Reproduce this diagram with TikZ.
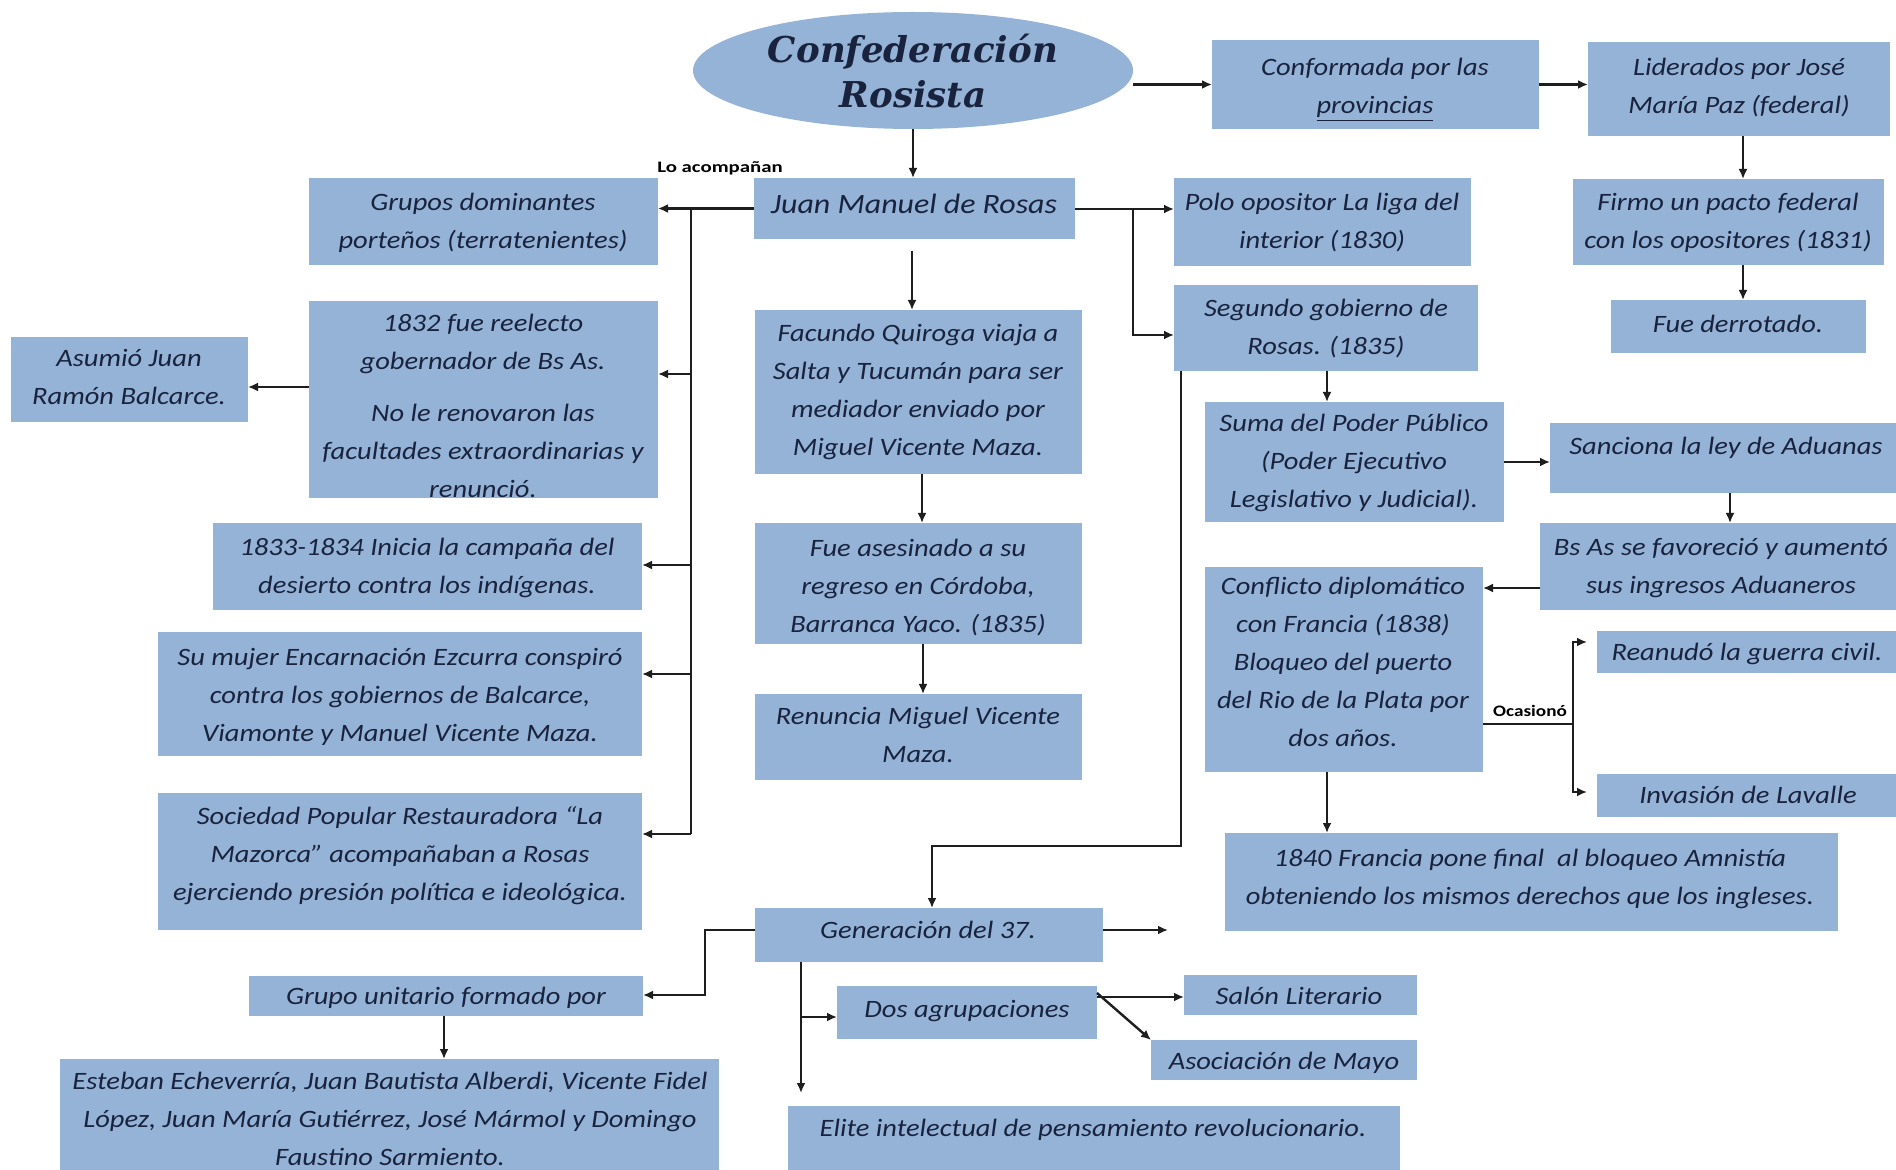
\documentclass[tikz,border=0pt]{standalone}
\usepackage{fontspec}
\usepackage{graphicx}
\setmainfont{Carlito}
\newfontfamily\cf{Carlito}[FakeStretch=1.14]
\newfontfamily\cfs{Carlito}
\newfontfamily\tf{DejaVu Serif}
\usetikzlibrary{arrows.meta,fit,shapes.geometric}
\definecolor{boxfill}{RGB}{149,179,215}
\definecolor{ink}{RGB}{25,35,62}
\definecolor{lin}{RGB}{30,30,30}
\begin{document}
\begin{tikzpicture}[x=0.5pt,y=-0.5pt,
  box/.style={fill=boxfill, inner sep=0pt, outer sep=0pt, draw=none},
  txtbase/.style={text=ink, align=center, font=\cf\itshape\fontsize{12.5}{19}\selectfont, inner sep=0pt,
    execute at begin node=\strut, execute at end node=\strut},
  txt/.style={txtbase, yshift=-0.9pt},
  txtm/.style={txtbase, yshift=-3.3pt},
  txtL/.style={txt, font=\cf\itshape\fontsize{14}{19}\selectfont},
  conn/.style={draw=lin, line width=1.2pt},
  arr/.style={conn, -{Latex[length=5pt,width=4.5pt]}},
  small/.style={text=black, font=\cfs\bfseries\fontsize{8}{9}\selectfont, inner sep=0pt}
]
\useasboundingbox (0,0) rectangle (1896,1170);
\fill[white] (0,0) rectangle (1896,1170);

% title ellipse
\node[ellipse, fill=boxfill, minimum width=220pt, minimum height=58.5pt, inner sep=0pt, outer sep=0pt] (ell) at (913,70.5) {};
\node[text=ink, align=center, font=\tf\bfseries\itshape\fontsize{17.8}{22.5}\selectfont, inner sep=0pt,
  execute at begin node=\strut, execute at end node=\strut] (title) at (913,78) {Confederación\\Rosista};

% boxes
\node[box, fit={(754,178)(1075,239)}] (rosas) {};
\node[box, fit={(1212,40)(1539,129)}] (conf) {};
\node[box, fit={(1588,42)(1890,136)}] (lid) {};
\node[box, fit={(1573,179)(1884,265)}] (firmo) {};
\node[box, fit={(1611,300)(1866,353)}] (derr) {};
\node[box, fit={(1174,178)(1471,266)}] (polo) {};
\node[box, fit={(1174,285)(1478,371)}] (seg) {};
\node[box, fit={(1205,402)(1504,522)}] (suma) {};
\node[box, fit={(1550,423)(1896,493)}] (sanc) {};
\node[box, fit={(1540,523)(1896,610)}] (bsas) {};
\node[box, fit={(1205,567)(1483,772)}] (confl) {};
\node[box, fit={(1597,631)(1896,673)}] (rean) {};
\node[box, fit={(1597,774)(1896,817)}] (inv) {};
\node[box, fit={(1225,833)(1838,931)}] (fr) {};
\node[box, fit={(309,178)(658,265)}] (grupos) {};
\node[box, fit={(309,301)(658,498)}] (reel) {};
\node[box, fit={(11,337)(248,422)}] (asum) {};
\node[box, fit={(213,523)(642,610)}] (camp) {};
\node[box, fit={(158,632)(642,756)}] (mujer) {};
\node[box, fit={(158,793)(642,930)}] (soc) {};
\node[box, fit={(755,310)(1082,474)}] (fac) {};
\node[box, fit={(755,523)(1082,644)}] (ases) {};
\node[box, fit={(755,694)(1082,780)}] (renun) {};
\node[box, fit={(755,908)(1103,962)}] (gen) {};
\node[box, fit={(249,976)(643,1016)}] (gru) {};
\node[box, fit={(60,1059)(719,1170)}] (est) {};
\node[box, fit={(837,986)(1097,1039)}] (dos) {};
\node[box, fit={(1184,975)(1417,1015)}] (sal) {};
\node[box, fit={(1151,1040)(1417,1080)}] (aso) {};
\node[box, fit={(788,1106)(1400,1170)}] (eli) {};

% texts
\node[txtL] (t-rosas) at (914,204) {Juan Manuel de Rosas};
\node[txtm] (t-conf) at (1375,85) {Conformada por las\\\underline{provincias}};
\node[txtm] (t-lid) at (1739,85) {Liderados por José\\María Paz (federal)};
\node[txtm] (t-firmo) at (1728,220) {Firmo un pacto federal\\con los opositores (1831)};
\node[txt] (t-derr) at (1738,323) {Fue derrotado.};
\node[txtm] (t-polo) at (1322,220) {Polo opositor La liga del\\interior (1830)};
\node[txtm] (t-seg) at (1326,326) {Segundo gobierno de\\Rosas. (1835)};
\node[txtm] (t-suma) at (1354,460) {Suma del Poder Público\\(Poder Ejecutivo\\Legislativo y Judicial).};
\node[txt] (t-sanc) at (1726,445) {Sanciona la ley de Aduanas};
\node[txtm] (t-bsas) at (1721,565) {Bs As se favoreció y aumentó\\sus ingresos Aduaneros};
\node[txtm] (t-confl) at (1343,661) {Conflicto diplomático\\con Francia (1838)\\Bloqueo del puerto\\del Rio de la Plata por\\dos años.};
\node[txt] (t-rean) at (1747,651) {Reanudó la guerra civil.};
\node[txt] (t-inv) at (1748,794) {Invasión de Lavalle};
\node[txtm] (t-fr) at (1530,876) {1840 Francia pone final~ al bloqueo Amnistía\\obteniendo los mismos derechos que los ingleses.};
\node[txtm] (t-grupos) at (483,220) {Grupos dominantes\\porteños (terratenientes)};
\node[txtm] (t-reel) at (483,405) {1832 fue reelecto\\gobernador de Bs As.\\[7pt]No le renovaron las\\facultades extraordinarias y\\renunció.};
\node[txtm] (t-asum) at (129,376) {Asumió Juan\\Ramón Balcarce.};
\node[txtm] (t-camp) at (427,565) {1833-1834 Inicia la campaña del\\desierto contra los indígenas.};
\node[txtm] (t-mujer) at (400,694) {Su mujer Encarnación Ezcurra conspiró\\contra los gobiernos de Balcarce,\\Viamonte y Manuel Vicente Maza.};
\node[txtm] (t-soc) at (400,853) {Sociedad Popular Restauradora “La\\Mazorca” acompañaban a Rosas\\ejerciendo presión política e ideológica.};
\node[txtm] (t-fac) at (918,389) {Facundo Quiroga viaja a\\Salta y Tucumán para ser\\mediador enviado por\\Miguel Vicente Maza.};
\node[txtm] (t-ases) at (918,585) {Fue asesinado a su\\regreso en Córdoba,\\Barranca Yaco. (1835)};
\node[txtm] (t-renun) at (918,734) {Renuncia Miguel Vicente\\Maza.};
\node[txt] (t-gen) at (928,929) {Generación del 37.};
\node[txt] (t-gru) at (446,995) {Grupo unitario formado por};
\node[txtm] (t-est) at (390,1118) {Esteban Echeverría, Juan Bautista Alberdi, Vicente Fidel\\López, Juan María Gutiérrez, José Mármol y Domingo\\Faustino Sarmiento.};
\node[txt] (t-dos) at (967,1008) {Dos agrupaciones};
\node[txt] (t-sal) at (1299,995) {Salón Literario};
\node[txt] (t-aso) at (1284,1060) {Asociación de Mayo};
\node[txt] (t-eli) at (1093,1127) {Elite intelectual de pensamiento revolucionario.};

% small labels
\node[small] (l-acomp) at (720,168) {\scalebox{1.3}[1]{Lo acompañan}};
\node[small] (l-ocas) at (1530,711) {\scalebox{1.2}[1]{Ocasionó}};

% connectors
\draw[arr] (ell.south) -- (ell.south |- rosas.north);
\draw[arr] (ell.east |- conf.west) -- (conf.west);
\draw[arr] (conf.east) -- (conf.east -| lid.west);
\draw[arr] (1743,0 |- lid.south) -- (1743,0 |- firmo.north);
\draw[arr] (1743,0 |- firmo.south) -- (1743,0 |- derr.north);

% left bus
\coordinate (bus) at (691,209);
\coordinate (busend) at (691,834);
\draw[arr] (rosas.west) -- (rosas.west -| grupos.east);
\draw[conn] (bus) -- (busend);
\draw[arr] (bus |- 0,374) -- (reel.east |- 0,374);
\draw[arr] (bus |- 0,565) -- (camp.east |- 0,565);
\draw[arr] (bus |- 0,674) -- (mujer.east |- 0,674);
\draw[arr] (busend) -- (soc.east |- busend);
\draw[arr] (reel.west |- 0,387) -- (asum.east |- 0,387);

% centre column
\draw[arr, shorten <=6pt] (912,0 |- rosas.south) -- (912,0 |- fac.north);
\draw[arr] (922,0 |- fac.south) -- (922,0 |- ases.north);
\draw[arr] (923,0 |- ases.south) -- (923,0 |- renun.north);

% right side
\coordinate (pj) at (1133,209);
\draw[arr] (rosas.east |- pj) -- (pj -| polo.west);
\draw[arr] (pj) |- (seg.west |- 0,335);
\draw[arr] (1327,0 |- seg.south) -- (1327,0 |- suma.north);
\draw[arr] (seg.south west -| 1181,0) |- (932,846) -- (932,0 |- gen.north);
\draw[arr] (suma.east) -- (suma.east -| sanc.west);
\draw[arr] (1730,0 |- sanc.south) -- (1730,0 |- bsas.north);
\draw[arr] (bsas.west |- 0,588) -- (confl.east |- 0,588);
\coordinate (oc) at (1573,724);
\draw[conn] (confl.east |- oc) -- (oc);
\draw[arr, shorten >=5pt] (oc) |- (rean.west |- 0,642);
\draw[arr, shorten >=5pt] (oc) |- (inv.west |- 0,792);
\draw[arr] (1327,0 |- confl.south) -- (1327,0 |- fr.north);

% bottom
\coordinate (genend) at (1168,930);
\draw[arr] (gen.east |- genend) -- (genend);
\draw[arr] (gen.west |- 0,930) -- (705,930) |- (gru.east |- 0,995);
\draw[arr] (444,0 |- gru.south) -- (444,0 |- est.north);
\coordinate (elend) at (801,1093);
\draw[arr] (elend |- gen.south) -- (elend);
\draw[arr] (elend |- 0,1017) -- (dos.west |- 0,1017);
\draw[arr] (dos.east |- 0,997) -- (sal.west |- 0,997);
\draw[arr] (dos.east |- 0,993) -- (aso.north west);
\end{tikzpicture}
\end{document}
